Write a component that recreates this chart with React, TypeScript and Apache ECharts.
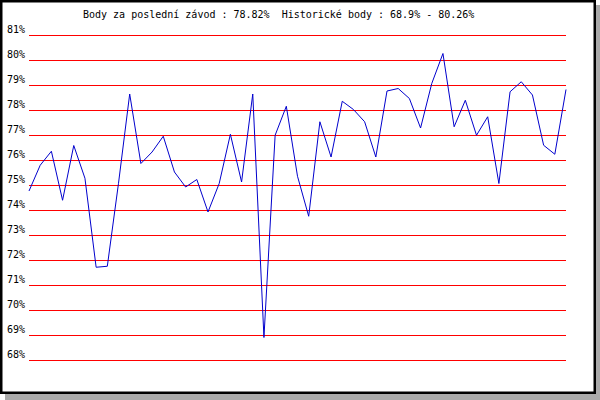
import React, { useEffect, useRef } from "react";
import * as echarts from "echarts";

const titleText = "Body za poslední závod : 78.82%  Historické body : 68.9% - 80.26%";

const races: string[] = Array.from({ length: 49 }, (_, i) => String(i + 1));

const points: number[] = [
  74.76, 75.79, 76.35, 74.39, 76.58, 75.27, 71.71, 71.75, 75.07, 78.64,
  75.86, 76.32, 76.95, 75.52, 74.92, 75.22, 73.92, 75.06, 77.03, 75.12,
  78.64, 68.9, 76.99, 78.15, 75.35, 73.75, 77.53, 76.12, 78.35, 78.02,
  77.53, 76.12, 78.76, 78.86, 78.46, 77.28, 79.06, 80.26, 77.33, 78.39,
  76.99, 77.73, 75.06, 78.73, 79.13, 78.6, 76.59, 76.23, 78.82,
];

const yMin = 68;
const yMax = 81;

export default function App() {
  const ref = useRef<HTMLDivElement>(null);

  useEffect(() => {
    if (!ref.current) return;
    const chart = echarts.init(ref.current, undefined, { renderer: "svg" });
    const font = "'DejaVu Sans Mono', monospace";
    chart.setOption({
      animation: false,
      backgroundColor: "transparent",
      title: {
        text: titleText,
        left: 83,
        top: 9,
        padding: 0,
        textStyle: {
          fontFamily: font,
          fontSize: 10,
          fontWeight: "normal",
          color: "#000",
        },
      },
      graphic: [
        { type: "rect", z: -100, silent: true, shape: { x: 5, y: 5, width: 595, height: 395 }, style: { fill: "#aaaaaa" } },
        { type: "rect", z: -99, silent: true, shape: { x: 0, y: 0, width: 596, height: 394 }, style: { fill: "#000000" } },
        { type: "rect", z: -98, silent: true, shape: { x: 2.5, y: 2.5, width: 591, height: 389 }, style: { fill: "#ffffff" } },
      ],
      grid: {
        left: 29,
        right: 34,
        top: 35,
        bottom: 40,
        containLabel: false,
      },
      xAxis: {
        type: "category",
        data: races,
        boundaryGap: false,
        axisLine: { show: false },
        axisTick: { show: false },
        axisLabel: { show: false },
        splitLine: { show: false },
      },
      yAxis: {
        type: "value",
        min: yMin,
        max: yMax,
        interval: 1,
        axisLine: { show: false },
        axisTick: { show: false },
        axisLabel: {
          formatter: "{value}%",
          fontFamily: font,
          fontSize: 10,
          color: "#000",
          margin: 4,
          verticalAlign: "bottom",
          lineHeight: 12,
        },
        splitLine: { show: true, lineStyle: { color: ["#ff0000"], width: 1, opacity: 1, type: "solid" } },
        splitArea: { show: false },
      },
      series: [
        {
          type: "line",
          data: points,
          symbol: "none",
          lineStyle: { color: "#0000cc", width: 1 },
          z: 3,
        },
      ],
    });
    return () => chart.dispose();
  }, []);

  return (
    <div
      ref={ref}
      style={{ position: "absolute", left: 0, top: 0, width: 600, height: 400, background: "#fff" }}
    />
  );
}
